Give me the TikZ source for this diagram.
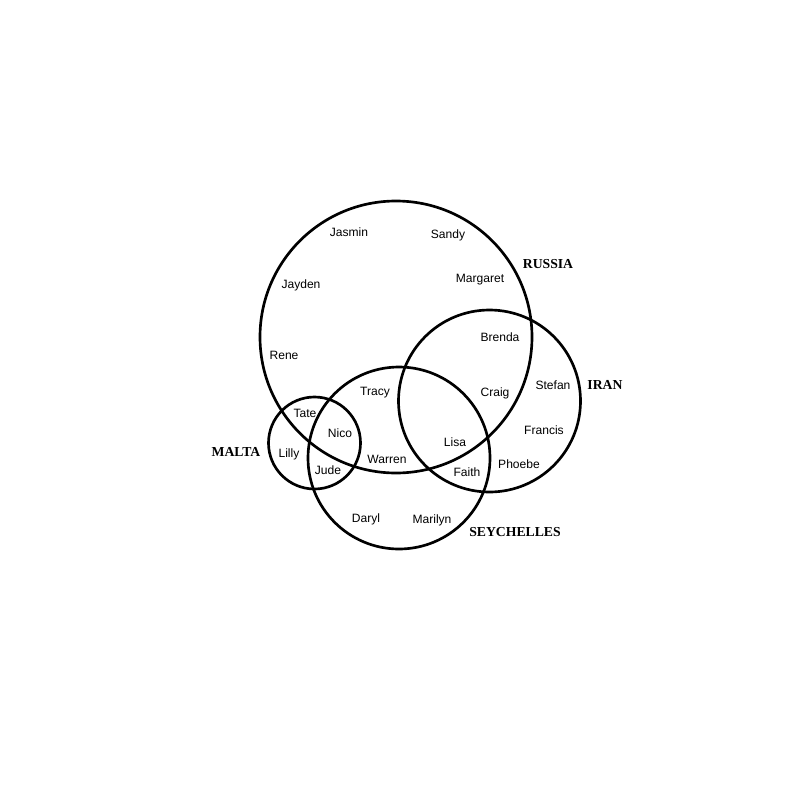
\documentclass[tikz,border=0pt]{standalone}
\usepackage{fontspec}
\setmainfont{Liberation Serif}
\setsansfont{Liberation Sans}
\begin{document}
\begin{tikzpicture}[x=0.3mm,y=-0.3mm,
  setline/.style={line width=0.8mm},
  person/.style={font=\sffamily\fontsize{10.3}{11}\selectfont},
  nation/.style={font=\bfseries\fontsize{11.7}{13}\selectfont}]
\useasboundingbox (0,0) rectangle (800,800);
\draw[setline] (396,337) circle (136);
\draw[setline] (489.5,401) circle (91);
\draw[setline] (399,458) circle (91);
\draw[setline] (314.5,443) circle (46);
\node[nation] (russia) at (548,264) {RUSSIA};
\node[nation] (iran) at (605,385) {IRAN};
\node[nation] (malta) at (236,452) {MALTA};
\node[nation] (seychelles) at (515,532) {SEYCHELLES};
\foreach \who/\x/\y in {Jasmin/349/232, Sandy/448/235, Margaret/480/280,
  Jayden/301/285, Rene/284/355, Brenda/500/337, Stefan/553/385,
  Craig/495/393, Tracy/375/393, Tate/305/413, Nico/340/433,
  Lisa/455/442, Lilly/289/454, Warren/387/459, Francis/544/430,
  Phoebe/519/464, Jude/328/470, Faith/467/472, Daryl/366/519,
  Marilyn/432/520}
  \node[person] (\who) at (\x,\y) {\who};
\end{tikzpicture}
\end{document}
